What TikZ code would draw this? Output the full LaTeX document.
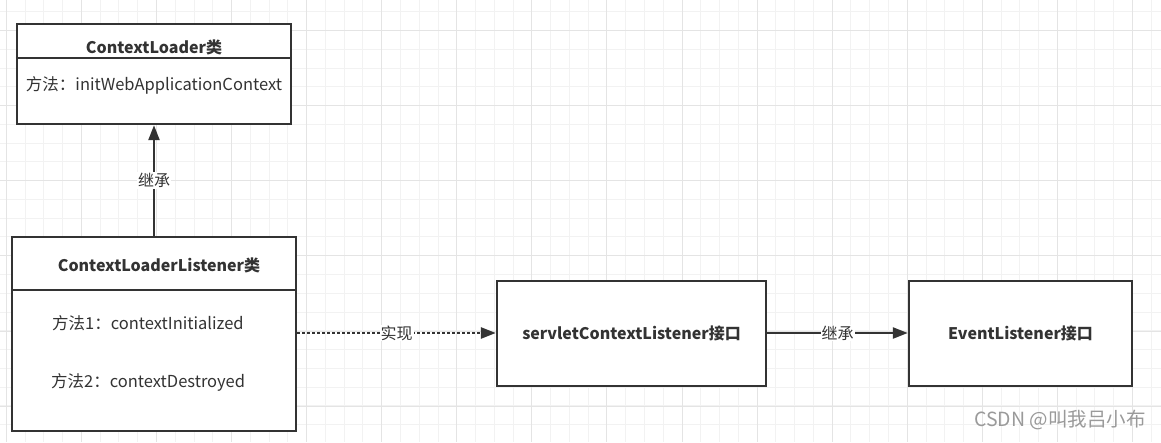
\documentclass[tikz,border=0pt]{standalone}
\usepackage{fontspec}
\setmainfont{Noto Sans CJK SC}
\usetikzlibrary{arrows.meta}
\definecolor{ink}{HTML}{333333}
\definecolor{gridminor}{HTML}{F2F2F2}
\definecolor{gridmajor}{HTML}{E4E4E4}
\definecolor{wm}{HTML}{9A9A9A}
\tikzset{
  box/.style={draw=ink, line width=2.4pt, fill=white, rectangle, inner sep=0pt},
  ttl/.style={font=\fontsize{16}{19}\selectfont\bfseries, text=ink, inner sep=0pt},
  mtd/.style={font=\fontsize{16.5}{19}\selectfont, text=ink, inner sep=0pt},
  lbl/.style={font=\fontsize{16}{19}\selectfont, text=ink, fill=white, inner sep=1pt},
  conn/.style={draw=ink, line width=2.4pt, -{Triangle[length=15pt,width=11pt]}},
  dotconn/.style={draw=ink, line width=2.6pt, dash pattern=on 2.6pt off 2.4pt, -{Triangle[length=15pt,width=11pt]}}
}
\begin{document}
\begin{tikzpicture}[x=1pt,y=-1pt]
\useasboundingbox (0,0) rectangle (1161,442);
\fill[white] (0,0) rectangle (1161,442);
% grid
\foreach \i in {0,...,62} {
  \pgfmathsetmacro{\gx}{6.3+\i*18.77}
  \draw[gridminor, line width=1pt] (\gx,0) -- (\gx,442);
}
\foreach \i in {0,...,23} {
  \pgfmathsetmacro{\gy}{11.7+\i*18.77}
  \draw[gridminor, line width=1pt] (0,\gy) -- (1161,\gy);
}
\foreach \i in {0,...,15} {
  \pgfmathsetmacro{\gx}{6.3+\i*75.08}
  \draw[gridmajor, line width=1pt] (\gx,0) -- (\gx,442);
}
\foreach \i in {0,...,5} {
  \pgfmathsetmacro{\gy}{30.7+\i*75.08}
  \draw[gridmajor, line width=1pt] (0,\gy) -- (1161,\gy);
}
% ContextLoader
\node[box, minimum width=274pt, minimum height=100pt] (cl) at (154,74) {};
\draw[ink, line width=2.4pt] (cl.west |- 0,58) -- (cl.east |- 0,58);
\node[ttl] (clt) at (154,47) {ContextLoader类};
\node[mtd] (clm) at (154,85) {方法：initWebApplicationContext};
% ContextLoaderListener
\node[box, minimum width=284pt, minimum height=194pt] (cll) at (154,334) {};
\draw[ink, line width=2.4pt] (cll.west |- 0,290) -- (cll.east |- 0,290);
\node[ttl] (cllt) at (159,265) {ContextLoaderListener类};
\node[mtd, anchor=west] (m1) at (52,323) {方法1：contextInitialized};
\node[mtd, anchor=west] (m2) at (51,382) {方法2：contextDestroyed};
% servletContextListener
\node[box, minimum width=269pt, minimum height=105pt] (scl) at (631.5,333.5) {};
\node[ttl] (sclt) at (631.5,333.5) {servletContextListener接口};
% EventListener
\node[box, minimum width=223pt, minimum height=105pt] (el) at (1020.5,333.5) {};
\node[ttl] (elt) at (1020.5,333.5) {EventListener接口};
% connectors
\draw[conn] (cll.north) -- node[lbl] {继承} (cl.south);
\draw[dotconn] (cll.east |- 0,333) -- node[lbl] {实现} (scl.west |- 0,333);
\draw[conn] (scl.east |- 0,333) -- node[lbl] {继承} (el.west |- 0,333);
% watermark
\node[font=\fontsize{19.5}{22}\selectfont, text=wm, anchor=east, inner sep=0pt] (wmk) at (1146,420) {CSDN @叫我吕小布};
\end{tikzpicture}
\end{document}
